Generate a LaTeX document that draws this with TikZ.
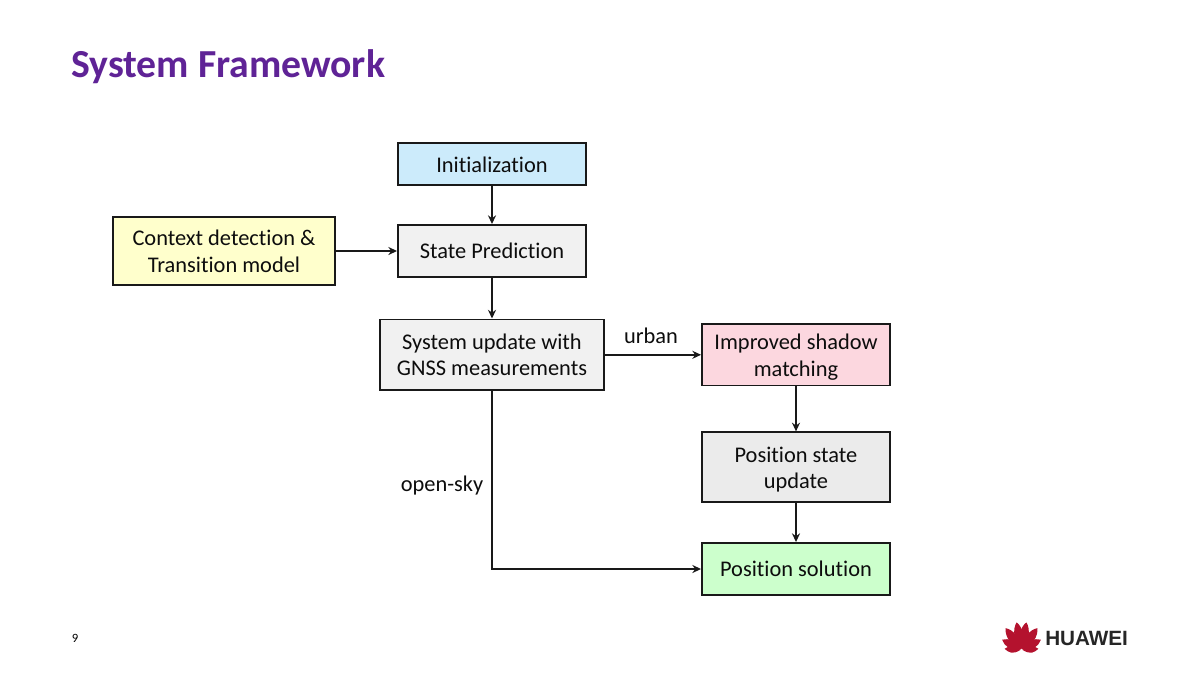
\documentclass[tikz,border=0pt]{standalone}
\usepackage{fontspec}
\setmainfont[Ligatures=NoCommon]{Carlito}
\newfontfamily\logofont{Liberation Sans}
\usetikzlibrary{arrows.meta}
\definecolor{titlepurple}{HTML}{5F2396}
\definecolor{logored}{HTML}{B4122E}
\definecolor{boxblue}{HTML}{CCEBFB}
\definecolor{boxgrey}{HTML}{F1F1F1}
\definecolor{boxgreyb}{HTML}{EBEBEB}
\definecolor{boxyellow}{HTML}{FFFFCC}
\definecolor{boxpink}{HTML}{FCD7DF}
\definecolor{boxgreen}{HTML}{CCFFCC}
\newcommand{\lowerline}{\rule{0pt}{15.5pt}}
\tikzset{
  x=0.75pt,y=-0.75pt,
  flowbox/.style={draw=black!90,line width=1.45pt,inner sep=0pt,align=center,font=\fontsize{16.8}{20}\selectfont,text=black!95},
  flowline/.style={draw=black!90,line width=1.35pt,-{Stealth[length=6.5pt,width=6pt]}},
  edgelabel/.style={font=\fontsize{16.8}{20}\selectfont,text=black!95,inner sep=0pt},
  petal/.style={fill=logored,draw=none}
}
\begin{document}
\begin{tikzpicture}
\useasboundingbox (0,0) rectangle (1200,675);
\fill[white] (0,0) rectangle (1200,675);
\node[anchor=west,inner sep=0pt,font=\fontsize{29.8}{34}\bfseries\selectfont,text=titlepurple] (title) at (71,66.5) {System Framework};
\node[flowbox,fill=boxblue,minimum width=141pt,minimum height=32pt] (init) at (492,164) {\rule{0pt}{13pt}Initialization};
\node[flowbox,fill=boxgrey,minimum width=141pt,minimum height=39pt] (pred) at (492,251) {State Prediction};
\node[flowbox,fill=boxyellow,minimum width=166.5pt,minimum height=51.5pt] (ctx) at (224,251) {Context detection \&\\Transition model};
\node[flowbox,fill=boxgrey,minimum width=168pt,minimum height=53pt] (sys) at (492,354.8) {System update with\\GNSS measurements};
\node[flowbox,fill=boxpink,minimum width=141pt,minimum height=46pt] (shadow) at (796,354.8) {\lowerline Improved shadow\\matching};
\node[flowbox,fill=boxgreyb,minimum width=141pt,minimum height=52pt] (state) at (796,467) {\lowerline Position state\\update};
\node[flowbox,fill=boxgreen,minimum width=141pt,minimum height=39pt] (sol) at (796,569) {Position solution};
\draw[flowline] (init) -- (pred);
\draw[flowline] (pred) -- (sys);
\draw[flowline] (ctx) -- (pred);
\draw[flowline] (sys) -- (shadow);
\draw[flowline] (shadow) -- (state);
\draw[flowline] (state) -- (sol);
\draw[flowline] (sys) |- (sol);
\node[edgelabel] (urban) at (651,335.5) {urban};
\node[edgelabel] (open) at (442,486) {open-sky};
\node[inner sep=0pt,font=\fontsize{9.5}{11}\selectfont] (page) at (75,638.5) {9};
\foreach \a/\l/\w in {-86/17/3.5,-62/22/4.5,-36/27/5,-10/28/5,10/28/5,36/27/5,62/22/4.5,86/17/3.5}{
  \begin{scope}[shift={(1021.5,650)},rotate=\a]
    \fill[petal] (0,-1) .. controls (-\w-2,-9) and (-\w,-\l+5) .. (0,-\l) .. controls (\w,-\l+5) and (\w+2,-9) .. (0,-1) -- cycle;
  \end{scope}
}
\node[anchor=west,inner sep=0pt,font=\logofont\fontsize{15.5}{18}\bfseries\selectfont,text=black!85] (logo) at (1045,638.5) {HUAWEI};
\end{tikzpicture}
\end{document}
